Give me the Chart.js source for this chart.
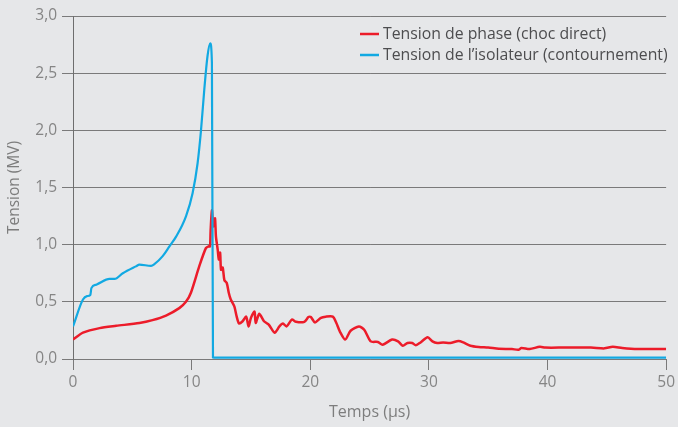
<!DOCTYPE html>
<html lang="fr">
<head>
<meta charset="utf-8">
<title>Tension de phase et tension de l’isolateur</title>
<script src="https://cdn.jsdelivr.net/npm/chart.js@4.4.1/dist/chart.umd.min.js"></script>
<style>
  html, body { margin: 0; padding: 0; background: #e6e7e9; }
  #wrap { position: relative; width: 678px; height: 427px; }
</style>
</head>
<body>
<div id="wrap"><canvas id="chart" width="678" height="427"></canvas></div>
<script>
// Time axis (µs) and tick labels
const xTicks = [0, 10, 20, 30, 40, 50];
const yTicks = [0, 0.5, 1.0, 1.5, 2.0, 2.5, 3.0];

// Phase voltage, direct stroke (MV)
const phaseT = [0, 0.84, 2.24, 3.64, 5.6, 6.7, 7.84, 8.96, 9.52, 9.94, 10.64, 11.2, 11.43, 11.55, 11.6, 11.71,
  11.83, 11.97, 12.05, 12.2, 12.29, 12.4, 12.48, 12.62, 12.76, 12.96, 13.13, 13.3, 13.6, 13.8, 14.0,
  14.3, 14.6, 14.8, 15.0, 15.3, 15.4, 15.7, 16.1, 16.5, 17.0, 17.4, 17.7, 18.0, 18.45, 18.8, 19.5,
  19.85, 20.05, 20.4, 20.9, 21.3, 21.9, 22.2, 22.5, 22.95, 23.4, 24.1, 24.55, 25.1, 25.7, 26.1, 26.9,
  27.4, 27.8, 28.2, 28.6, 28.9, 29.3, 29.9, 30.3, 30.7, 31.2, 31.8, 32.5, 32.9, 33.5, 34.2, 35.0,
  35.9, 37.0, 37.55, 37.8, 38.5, 39.35, 39.8, 41.4, 43.65, 44.8, 45.5, 46.3, 47.6, 50];
const phaseV = [0.17, 0.23, 0.27, 0.29, 0.315, 0.34, 0.38, 0.445, 0.50, 0.58, 0.81, 0.97, 0.985, 0.985, 1.12, 1.30,
  1.16, 1.23, 1.07, 0.955, 0.87, 0.93, 0.78, 0.80, 0.69, 0.665, 0.58, 0.52, 0.46, 0.37, 0.31,
  0.33, 0.37, 0.285, 0.36, 0.415, 0.315, 0.395, 0.33, 0.30, 0.23, 0.285, 0.31, 0.285, 0.345, 0.325, 0.325,
  0.367, 0.367, 0.32, 0.36, 0.37, 0.37, 0.315, 0.24, 0.17, 0.247, 0.285, 0.256, 0.154, 0.149, 0.125, 0.17,
  0.154, 0.116, 0.14, 0.14, 0.12, 0.145, 0.19, 0.154, 0.14, 0.145, 0.14, 0.157, 0.145, 0.116, 0.105, 0.10,
  0.09, 0.087, 0.081, 0.096, 0.087, 0.107, 0.10, 0.10, 0.10, 0.093, 0.107, 0.096, 0.087, 0.087];

// Insulator voltage, flashover (MV)
const insulT = [0, 0.84, 1.18, 1.46, 1.55, 1.96, 3.08, 3.5, 4.2, 5.3, 5.6, 6.58, 6.86, 7.56, 8.13, 8.69,
  9.53, 10.08, 10.5, 10.79, 11.07, 11.34, 11.57, 11.71, 11.8, 12.0, 50];
const insulV = [0.285, 0.52, 0.55, 0.56, 0.62, 0.65, 0.70, 0.70, 0.75, 0.81, 0.825, 0.815, 0.83, 0.90, 0.985, 1.07,
  1.25, 1.45, 1.71, 2.0, 2.36, 2.65, 2.76, 2.59, 0.014, 0.012, 0.012];

const seriesLabels = ['Tension de phase (choc direct)', 'Tension de l’isolateur (contournement)'];
const seriesColors = ['#ec1c2a', '#12a9e2'];

const toPoints = (t, v) => t.map((x, i) => ({ x, y: v[i] }));
const FONT = '"Open Sans", "Noto Sans", sans-serif';

// Legend drawn inside the plot area, top right
const insideLegend = {
  id: 'insideLegend',
  afterDraw(chart) {
    const ctx = chart.ctx;
    const x0 = 360, rows = [34, 55];
    ctx.save();
    ctx.font = '15.8px ' + FONT;
    ctx.textBaseline = 'middle';
    chart.data.datasets.forEach((ds, i) => {
      const y = rows[i];
      ctx.strokeStyle = ds.borderColor;
      ctx.lineWidth = 2.5;
      ctx.beginPath();
      ctx.moveTo(x0, y);
      ctx.lineTo(x0 + 19, y);
      ctx.stroke();
      ctx.fillStyle = '#4d4d4f';
      ctx.fillText(ds.label, x0 + 23, y);
    });
    ctx.restore();
  }
};

new Chart(document.getElementById('chart'), {
  type: 'line',
  data: {
    datasets: [
      { label: seriesLabels[0], data: toPoints(phaseT, phaseV), borderColor: seriesColors[0],
        borderWidth: 2.5, pointRadius: 0, tension: 0.25, order: 2 },
      { label: seriesLabels[1], data: toPoints(insulT, insulV), borderColor: seriesColors[1],
        borderWidth: 2.2, pointRadius: 0, tension: 0.2, cubicInterpolationMode: 'monotone', order: 1 }
    ]
  },
  options: {
    responsive: false,
    animation: false,
    layout: { padding: { top: 16, right: 10, left: 0, bottom: 0 } },
    plugins: { legend: { display: false }, tooltip: { enabled: false } },
    scales: {
      x: {
        type: 'linear', min: 0, max: 50,
        afterBuildTicks: s => { s.ticks = xTicks.map(v => ({ value: v })); },
        afterFit: s => { s.height = 427 - 359; },
        grid: { display: true, drawOnChartArea: false, drawTicks: true, tickLength: 11, color: '#7a7a7a', lineWidth: 1 },
        border: { display: false },
        ticks: { color: '#858585', font: { family: FONT, size: 15.5 }, padding: 3, maxRotation: 0 },
        title: { display: true, text: 'Temps (µs)', color: '#7d7d7d', font: { family: FONT, size: 16 }, padding: { top: 0, bottom: 4.5 } }
      },
      y: {
        min: 0, max: 3,
        afterBuildTicks: s => { s.ticks = yTicks.map(v => ({ value: v })); },
        afterFit: s => { s.width = 73; },
        grid: { color: '#7a7a7a', lineWidth: 1, tickLength: 11 },
        border: { display: true, color: '#6e6e6e', width: 1 },
        ticks: { color: '#858585', font: { family: FONT, size: 15.5 }, padding: 5,
          callback: v => v.toFixed(1).replace('.', ',') },
        title: { display: true, text: 'Tension (MV)', color: '#7d7d7d', font: { family: FONT, size: 15.5 }, padding: { top: 5.7, bottom: 0 } }
      }
    }
  },
  plugins: [insideLegend]
});
</script>
</body>
</html>
